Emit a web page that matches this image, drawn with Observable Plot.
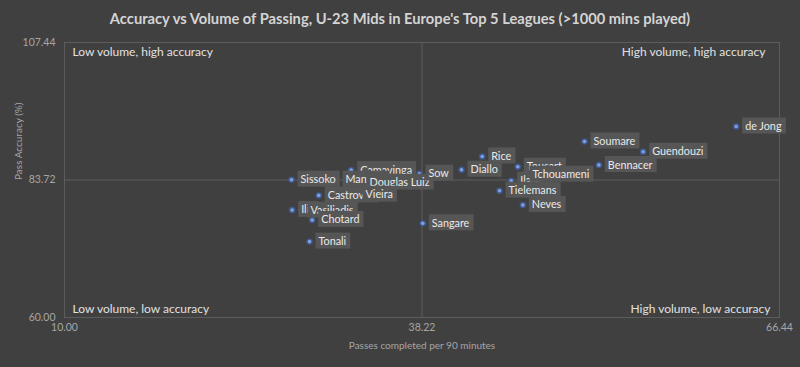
<!DOCTYPE html>
<html>
<head>
<meta charset="utf-8">
<script src="https://cdn.jsdelivr.net/npm/d3@7"></script>
<script src="https://cdn.jsdelivr.net/npm/@observablehq/plot@0.6"></script>
<style>
  html, body { margin: 0; padding: 0; background: #404040; }
  #title { height: 36px; line-height: 36px; text-align: center; color: #d4d4d4;
    font-family: Lato, sans-serif; font-weight: 700; font-size: 14.7px; }
  svg { display: block; }
</style>
</head>
<body>
<div id="title">Accuracy vs Volume of Passing, U-23 Mids in Europe's Top 5 Leagues (&gt;1000 mins played)</div>
<div id="chart"></div>
<script>
const players = ["Sissoko", "Camavinga", "Mangala", "Castrovilli", "Douglas Luiz", "Vieira", "Ilic", "Vasiliadis", "Chotard", "Tonali", "Sow", "Sangare", "Diallo", "Rice", "Tousart", "Ilaix", "Tchouameni", "Tielemans", "Neves", "Soumare", "Bennacer", "Guendouzi", "de Jong"];
const passes = [27.92, 32.63, 31.47, 30.07, 33.37, 33.05, 27.97, 28.71, 29.55, 29.34, 38.02, 38.28, 41.34, 42.97, 45.78, 45.26, 46.23, 44.34, 46.18, 51.05, 52.18, 55.68, 63.02];
const accuracy = [83.76, 85.43, 83.76, 81.06, 83.25, 81.18, 78.55, 78.43, 76.82, 73.09, 84.80, 76.24, 85.49, 87.78, 86.00, 83.59, 84.62, 81.87, 79.41, 90.36, 86.30, 88.59, 92.94];
const xTicks = [10.00, 38.22, 66.44];
const yTicks = [60.00, 83.72, 107.44];
const xTitle = "Passes completed per 90 minutes";
const yTitle = "Pass Accuracy (%)";
const quadrants = [
  {label: "Low volume, high accuracy", corner: "top-left"},
  {label: "High volume, high accuracy", corner: "top-right"},
  {label: "Low volume, low accuracy", corner: "bottom-left"},
  {label: "High volume, low accuracy", corner: "bottom-right"}
];
const data = players.map((p, i) => ({player: p, passes: passes[i], accuracy: accuracy[i]}));

const font = "Lato, sans-serif";
const q = c => quadrants.filter(d => d.corner === c);
const chart = Plot.plot({
  width: 800,
  height: 331,
  marginTop: 6,
  marginBottom: 50,
  marginLeft: 64,
  marginRight: 21,
  style: {background: "#404040", color: "#a6a6a6", fontFamily: font, fontSize: "10.5px"},
  x: {domain: [10, 66.44], ticks: xTicks, tickFormat: d3.format(".2f"), tickSize: 0, tickPadding: 6, label: null},
  y: {domain: [60, 107.44], ticks: yTicks, tickFormat: d3.format(".2f"), tickSize: 0, tickPadding: 9, label: null},
  marks: [
    Plot.frame({stroke: "#5c5c5c"}),
    Plot.ruleX([xTicks[1]], {stroke: "#5c5c5c"}),
    Plot.ruleY([yTicks[1]], {stroke: "#5c5c5c"}),
    Plot.text([xTitle], {frameAnchor: "bottom", dy: 31, fill: "#a6a6a6", fontSize: 10}),
    Plot.text([yTitle], {frameAnchor: "left", dx: -46, rotate: -90, fill: "#a6a6a6", fontSize: 10}),
    Plot.text(q("top-left"), {text: "label", frameAnchor: "top-left", dx: 8, dy: 5, fill: "#e0e0e0", fontSize: 12}),
    Plot.text(q("top-right"), {text: "label", frameAnchor: "top-right", dx: -14, dy: 5, fill: "#e0e0e0", fontSize: 12}),
    Plot.text(q("bottom-left"), {text: "label", frameAnchor: "bottom-left", dx: 8, dy: -5, fill: "#e0e0e0", fontSize: 12}),
    Plot.text(q("bottom-right"), {text: "label", frameAnchor: "bottom-right", dx: -9, dy: -5, fill: "#e0e0e0", fontSize: 12}),
    Plot.dot(data, {x: "passes", y: "accuracy", r: 3.2, fill: "#3f5a8f", stroke: "none"}),
    Plot.dot(data, {x: "passes", y: "accuracy", r: 1.8, fill: "#7f9fe0", stroke: "none"}),
    Plot.text(data, {x: "passes", y: "accuracy", text: "player", dx: 9, textAnchor: "start", fill: "#eaeaea", fontSize: 10.8})
  ]
});
document.getElementById("chart").appendChild(chart);

// label boxes behind each player label, drawn in data order so later boxes cover earlier labels
const groups = chart.querySelectorAll('g[aria-label="text"]');
const g = groups[groups.length - 1];
if (g) {
  Array.from(g.querySelectorAll("text")).forEach(t => {
    const b = t.getBBox();
    const r = document.createElementNS("http://www.w3.org/2000/svg", "rect");
    r.setAttribute("x", b.x - 3);
    r.setAttribute("y", b.y - 1.5);
    r.setAttribute("width", b.width + 7);
    r.setAttribute("height", b.height + 3);
    r.setAttribute("fill", "#565656");
    r.setAttribute("stroke", "none");
    const tr = t.getAttribute("transform");
    if (tr) r.setAttribute("transform", tr);
    t.parentNode.insertBefore(r, t);
  });
}
</script>
</body>
</html>
